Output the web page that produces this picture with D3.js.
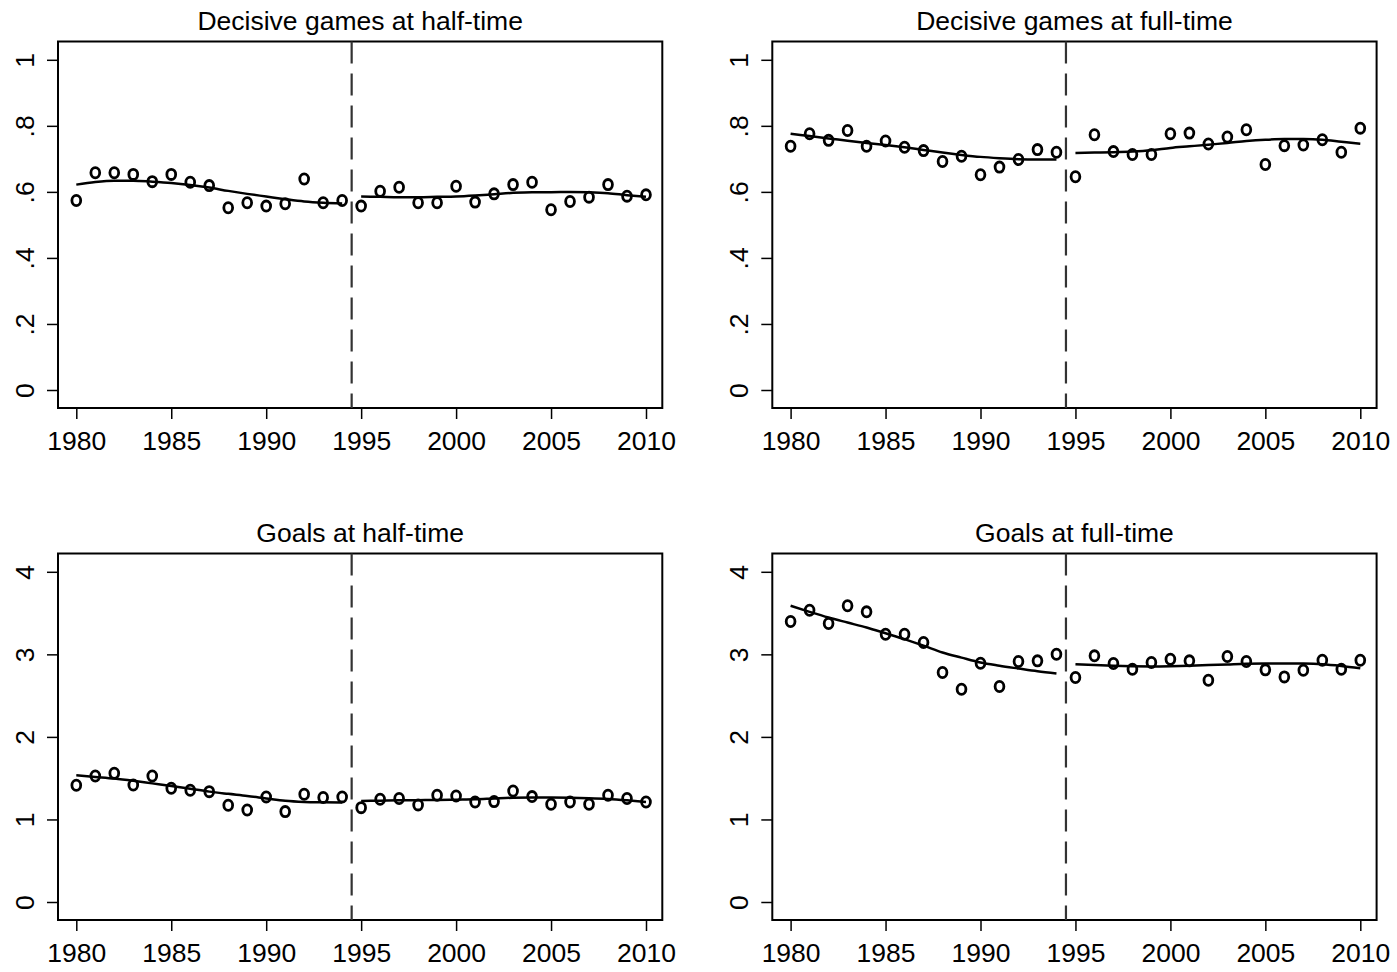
<!DOCTYPE html>
<html>
<head>
<meta charset="utf-8">
<script src="https://cdn.jsdelivr.net/npm/d3@7"></script>
<style>
  body { margin: 0; background: #fff; }
  svg { display: block; font-family: "Liberation Sans", Arial, Helvetica, sans-serif; }
</style>
</head>
<body>
<div id="chart"></div>
<script>
// years shown on every panel, split at the 1994/95 break
const years = d3.range(1980, 2011);
const yearsBefore = d3.range(1980, 1995);
const yearsAfter = d3.range(1995, 2011);
const xTicks = [1980, 1985, 1990, 1995, 2000, 2005, 2010];
const breakYear = 1994.5;

// Decisive games at half-time
const decisiveHT = [0.574, 0.658, 0.658, 0.653, 0.631, 0.653, 0.629, 0.619, 0.552, 0.567,
                    0.557, 0.564, 0.639, 0.567, 0.574, 0.557, 0.602, 0.614, 0.567, 0.567,
                    0.617, 0.569, 0.594, 0.622, 0.629, 0.546, 0.571, 0.584, 0.622, 0.587, 0.591];
const decisiveHTFitBefore = [0.622, 0.630, 0.634, 0.634, 0.631, 0.627, 0.621, 0.613, 0.603, 0.594,
                             0.586, 0.578, 0.571, 0.567, 0.565];
const decisiveHTFitAfter = [0.586, 0.585, 0.584, 0.584, 0.585, 0.586, 0.589, 0.593, 0.597, 0.599,
                            0.599, 0.600, 0.599, 0.596, 0.590, 0.585];

// Decisive games at full-time
const decisiveFT = [0.738, 0.776, 0.756, 0.786, 0.738, 0.754, 0.735, 0.725, 0.692, 0.708,
                    0.652, 0.675, 0.698, 0.728, 0.720, 0.646, 0.773, 0.722, 0.713, 0.713,
                    0.776, 0.778, 0.745, 0.766, 0.788, 0.683, 0.740, 0.742, 0.758, 0.720, 0.793];
const decisiveFTFitBefore = [0.776, 0.769, 0.762, 0.755, 0.748, 0.742, 0.735, 0.727, 0.719, 0.712,
                             0.706, 0.702, 0.699, 0.698, 0.698];
const decisiveFTFitAfter = [0.718, 0.719, 0.720, 0.722, 0.726, 0.733, 0.738, 0.743, 0.748, 0.754,
                            0.758, 0.760, 0.760, 0.758, 0.752, 0.746];

// Goals at half-time
const goalsHT = [1.414, 1.527, 1.560, 1.418, 1.527, 1.378, 1.354, 1.337, 1.172, 1.115,
                 1.273, 1.095, 1.305, 1.265, 1.273, 1.143, 1.244, 1.253, 1.176, 1.293,
                 1.285, 1.212, 1.216, 1.345, 1.277, 1.184, 1.212, 1.184, 1.293, 1.253, 1.212];
const goalsHTFitBefore = [1.535, 1.515, 1.495, 1.468, 1.437, 1.406, 1.372, 1.337, 1.310, 1.285,
                          1.255, 1.226, 1.212, 1.207, 1.204];
const goalsHTFitAfter = [1.224, 1.228, 1.232, 1.234, 1.236, 1.240, 1.244, 1.254, 1.263, 1.266,
                         1.265, 1.262, 1.257, 1.248, 1.232, 1.212];

// Goals at full-time
const goalsFT = [3.398, 3.535, 3.374, 3.588, 3.515, 3.244, 3.244, 3.143, 2.780, 2.578,
                 2.893, 2.610, 2.913, 2.921, 3.002, 2.719, 2.982, 2.889, 2.820, 2.901,
                 2.941, 2.921, 2.687, 2.974, 2.913, 2.812, 2.727, 2.808, 2.929, 2.820, 2.929];
const goalsFTFitBefore = [3.588, 3.515, 3.446, 3.385, 3.325, 3.255, 3.184, 3.105, 3.022, 2.960,
                          2.901, 2.862, 2.828, 2.795, 2.768];
const goalsFTFitAfter = [2.881, 2.870, 2.861, 2.855, 2.853, 2.856, 2.862, 2.870, 2.878, 2.886,
                         2.889, 2.889, 2.888, 2.881, 2.860, 2.832];

const probTicks = [0, 0.2, 0.4, 0.6, 0.8, 1];
const probLabels = ['0', '.2', '.4', '.6', '.8', '1'];
const goalTicks = [0, 1, 2, 3, 4];
const goalLabels = ['0', '1', '2', '3', '4'];

const panels = [
    {title: 'Decisive games at half-time', values: decisiveHT, fitBefore: decisiveHTFitBefore, fitAfter: decisiveHTFitAfter,
     yMax: 1, ticks: probTicks, labels: probLabels, dx: 0, dy: 0},
    {title: 'Decisive games at full-time', values: decisiveFT, fitBefore: decisiveFTFitBefore, fitAfter: decisiveFTFitAfter,
     yMax: 1, ticks: probTicks, labels: probLabels, dx: 714.3, dy: 0},
    {title: 'Goals at half-time', values: goalsHT, fitBefore: goalsHTFitBefore, fitAfter: goalsHTFitAfter,
     yMax: 4, ticks: goalTicks, labels: goalLabels, dx: 0, dy: 512},
    {title: 'Goals at full-time', values: goalsFT, fitBefore: goalsFTFitBefore, fitAfter: goalsFTFitAfter,
     yMax: 4, ticks: goalTicks, labels: goalLabels, dx: 714.3, dy: 512}
];

const svg = d3.select('#chart')
    .append('svg')
    .attr('width', 1397)
    .attr('height', 972);

// plot region inside one panel
const box = {left: 58, right: 662.3, top: 41.5, bottom: 408};

panels.forEach(p => {
    const g = svg.append('g')
        .attr('transform', `translate(${p.dx},${p.dy})`);

    const x = d3.scaleLinear()
        .domain([1980, 2010])
        .range([76.3, 646]);

    const y = d3.scaleLinear()
        .domain([0, p.yMax])
        .range([390, 59.8]);

    // title
    g.append('text')
        .attr('x', (box.left + box.right) / 2)
        .attr('y', 30)
        .attr('text-anchor', 'middle')
        .style('font-size', '26.5px')
        .text(p.title);

    // x axis
    const xAxis = d3.axisBottom(x)
        .tickValues(xTicks)
        .tickFormat(d3.format('d'))
        .tickSize(11)
        .tickPadding(12);

    const xg = g.append('g')
        .attr('transform', `translate(0,${box.bottom})`)
        .call(xAxis);
    xg.select('.domain').remove();
    xg.selectAll('line').attr('stroke', '#000').attr('stroke-width', 1.5);
    xg.selectAll('text')
        .attr('fill', '#000')
        .style('font-size', '26.5px')
        .style('font-family', '"Liberation Sans", Arial, sans-serif');

    // y axis, labels turned sideways
    const yAxis = d3.axisLeft(y)
        .tickValues(p.ticks)
        .tickFormat((d, i) => p.labels[i])
        .tickSize(11)
        .tickPadding(0);

    const yg = g.append('g')
        .attr('transform', `translate(${box.left},0)`)
        .call(yAxis);
    yg.select('.domain').remove();
    yg.selectAll('line').attr('stroke', '#000').attr('stroke-width', 1.5);
    yg.selectAll('text')
        .attr('fill', '#000')
        .attr('x', null)
        .attr('dy', null)
        .attr('text-anchor', 'middle')
        .attr('transform', 'translate(-24,0) rotate(-90)')
        .style('font-size', '26.5px')
        .style('font-family', '"Liberation Sans", Arial, sans-serif');

    // frame
    g.append('rect')
        .attr('x', box.left)
        .attr('y', box.top)
        .attr('width', box.right - box.left)
        .attr('height', box.bottom - box.top)
        .attr('fill', 'none')
        .attr('stroke', '#000')
        .attr('stroke-width', 2);

    // break line
    g.append('line')
        .attr('x1', x(breakYear))
        .attr('x2', x(breakYear))
        .attr('y1', box.top)
        .attr('y2', box.bottom)
        .attr('stroke', '#333')
        .attr('stroke-width', 2.2)
        .attr('stroke-dasharray', '22,10');

    // smoothed fits on each side of the break
    const line = d3.line()
        .x(d => x(d[0]))
        .y(d => y(d[1]))
        .curve(d3.curveMonotoneX);

    g.append('path')
        .datum(yearsBefore.map((yr, i) => [yr, p.fitBefore[i]]))
        .attr('fill', 'none')
        .attr('stroke', '#000')
        .attr('stroke-width', 2.5)
        .attr('d', line);

    g.append('path')
        .datum(yearsAfter.map((yr, i) => [yr, p.fitAfter[i]]))
        .attr('fill', 'none')
        .attr('stroke', '#000')
        .attr('stroke-width', 2.5)
        .attr('d', line);

    // yearly points
    g.selectAll('.dot')
        .data(years.map((yr, i) => ({year: yr, value: p.values[i]})))
        .enter()
        .append('ellipse')
        .attr('class', 'dot')
        .attr('cx', d => x(d.year))
        .attr('cy', d => y(d.value))
        .attr('rx', 4.4)
        .attr('ry', 5.1)
        .attr('fill', 'none')
        .attr('stroke', '#000')
        .attr('stroke-width', 2.8);
});
</script>
</body>
</html>
